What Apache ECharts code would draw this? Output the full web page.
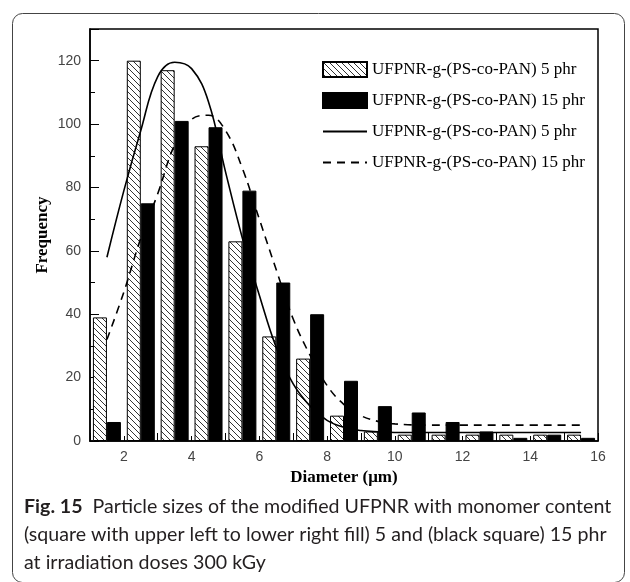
<!DOCTYPE html>
<html>
<head>
<meta charset="utf-8">
<script src="https://cdn.jsdelivr.net/npm/echarts@6/dist/echarts.min.js"></script>
<style>
html,body{margin:0;padding:0;background:#fff;}
#chart{width:630px;height:582px;}
</style>
</head>
<body>
<div id="chart"></div>
<script>
// ---- data ----
const diameterBins = [1.5, 2.5, 3.5, 4.5, 5.5, 6.5, 7.5, 8.5, 9.5, 10.5, 11.5, 12.5, 13.5, 14.5, 15.5];
const freq5phr  = [39, 120, 117, 93, 63, 33, 26, 8, 3, 2, 2, 2, 2, 2, 2];
const freq15phr = [6, 75, 101, 99, 79, 50, 40, 19, 11, 9, 6, 3, 1, 2, 1];
const fitX      = [1.5, 2, 2.5, 3, 3.5, 4, 4.5, 5, 5.5, 6, 6.5, 7, 7.5, 8, 8.5, 9, 9.5, 10, 11, 12, 13, 14, 15, 15.5];
const fit5phr   = [58, 79, 98, 115, 119.5, 117.5, 107, 85, 64, 46, 29.5, 18, 11, 6.5, 4.3, 3.3, 2.9, 2.7, 2.7, 2.7, 2.7, 2.7, 2.7, 2.7];
const fit15phr  = [32, 47, 64, 78, 93.5, 101.5, 102.8, 98, 86, 70, 54, 38.5, 27, 17.5, 11.5, 8, 6.2, 5.4, 5, 5, 5, 5, 5, 5];
const seriesNames = ['UFPNR-g-(PS-co-PAN) 5 phr', 'UFPNR-g-(PS-co-PAN) 15 phr', 'UFPNR-g-(PS-co-PAN) 5 phr ', 'UFPNR-g-(PS-co-PAN) 15 phr '];
const xName = 'Diameter (\u03bcm)';
const yName = 'Frequency';
const captionLines = [
  '{b|Fig. 15}  Particle sizes of the modified UFPNR with monomer content',
  '(square with upper left to lower right fill) 5 and (black square) 15 phr',
  'at irradiation doses 300 kGy'
];

// hatch pattern (upper-left to lower-right)
function makeHatch() {
  const c = document.createElement('canvas');
  const s = 6;
  c.width = s; c.height = s;
  const g = c.getContext('2d');
  g.fillStyle = '#fff';
  g.fillRect(0, 0, s, s);
  g.strokeStyle = '#333';
  g.lineWidth = 1;
  g.beginPath();
  g.moveTo(-1, -1); g.lineTo(s + 1, s + 1);
  g.moveTo(-1, s - 1); g.lineTo(1, s + 1);
  g.moveTo(s - 1, -1); g.lineTo(s + 1, 1);
  g.stroke();
  return c;
}
const hatch = { image: makeHatch(), repeat: 'repeat' };

const toPairs = (xs, ys) => xs.map((x, i) => [x, ys[i]]);

const chart = echarts.init(document.getElementById('chart'));
const serif = 'Liberation Serif';
const sans = 'Liberation Sans';

chart.setOption({
  backgroundColor: '#fff',
  animation: false,
  grid: { left: 90, right: 32, top: 29, bottom: 141, show: true, borderColor: '#000', borderWidth: 1.5, backgroundColor: 'transparent' },
  legend: {
    orient: 'vertical', left: 322, top: 61, padding: 0,
    itemWidth: 44, itemHeight: 15, itemGap: 14,
    textStyle: { fontFamily: serif, fontSize: 17, color: '#000' },
    data: [
      { name: seriesNames[0], icon: 'rect' },
      { name: seriesNames[1], icon: 'rect' },
      { name: seriesNames[2], itemStyle: { opacity: 0 } },
      { name: seriesNames[3], itemStyle: { opacity: 0 } }
    ]
  },
  xAxis: [{
    type: 'value', min: 1, max: 16, interval: 1,
    name: xName, nameLocation: 'middle', nameGap: 28,
    nameTextStyle: { fontFamily: serif, fontWeight: 'bold', fontSize: 17, color: '#000' },
    axisLine: { lineStyle: { color: '#000', width: 1.5 } },
    axisTick: { inside: true, length: 5, lineStyle: { color: '#000' } },
    axisLabel: { fontFamily: sans, fontSize: 14, color: '#444', margin: 9,
      formatter: v => (v % 2 === 0 ? String(v) : '') },
    splitLine: { show: false }
  }, {
    type: 'value', min: 1, max: 16, interval: 2, position: 'bottom',
    axisLine: { show: false }, axisLabel: { show: false }, splitLine: { show: false },
    axisTick: { inside: true, length: 8, lineStyle: { color: '#000' } }
  }],
  yAxis: [{
    type: 'value', min: 0, max: 130, interval: 10,
    name: yName, nameLocation: 'middle', nameGap: 39, nameMoveOverlap: false,
    nameTextStyle: { fontFamily: serif, fontWeight: 'bold', fontSize: 17, color: '#000' },
    axisLine: { show: true, lineStyle: { color: '#000', width: 1.5 } },
    axisTick: { show: true, inside: true, length: 5, lineStyle: { color: '#000' } },
    axisLabel: { fontFamily: sans, fontSize: 14, color: '#444', margin: 9,
      formatter: v => (v % 20 === 0 && v <= 120 ? String(v) : '') },
    splitLine: { show: false }
  }, {
    type: 'value', min: 0, max: 130, interval: 20, position: 'left',
    axisLine: { show: false }, axisLabel: { show: false }, splitLine: { show: false },
    axisTick: { show: true, inside: true, length: 9, lineStyle: { color: '#000' } }
  }],
  series: [
    { name: seriesNames[0], type: 'bar', xAxisIndex: 0, yAxisIndex: 0,
      data: toPairs(diameterBins, freq5phr), barWidth: 14, barGap: '0%',
      itemStyle: { color: hatch, borderColor: '#000', borderWidth: 1 } },
    { name: seriesNames[1], type: 'bar', xAxisIndex: 0, yAxisIndex: 0,
      data: toPairs(diameterBins, freq15phr), barWidth: 14, barGap: '0%',
      itemStyle: { color: '#000', borderColor: '#000', borderWidth: 1 } },
    { name: seriesNames[2], type: 'line', xAxisIndex: 0, yAxisIndex: 0, z: 5,
      data: toPairs(fitX, fit5phr), smooth: 0.4, symbol: 'none',
      itemStyle: { color: '#000' },
      lineStyle: { color: '#000', width: 1.6 } },
    { name: seriesNames[3], type: 'line', xAxisIndex: 0, yAxisIndex: 0, z: 5,
      data: toPairs(fitX, fit15phr), smooth: 0.4, symbol: 'none',
      itemStyle: { color: '#000' },
      lineStyle: { color: '#000', width: 1.6, type: [8, 6] } }
  ],
  graphic: [
    { type: 'rect', left: 10, top: 11, z: -1, silent: true,
      shape: { width: 612, height: 569, r: 10 },
      style: { fill: 'none', stroke: '#444', lineWidth: 1 } },
    ...captionLines.map((t, i) => ({
      type: 'text', left: 24, top: 497 + i * 28, silent: true,
      style: { text: t, fontFamily: 'Lato', fontSize: 19.6, fill: '#231f20',
        rich: { b: { fontFamily: 'Lato', fontWeight: 'bold', fontSize: 19.6, fill: '#231f20' } } }
    }))
  ]
});
</script>
</body>
</html>
